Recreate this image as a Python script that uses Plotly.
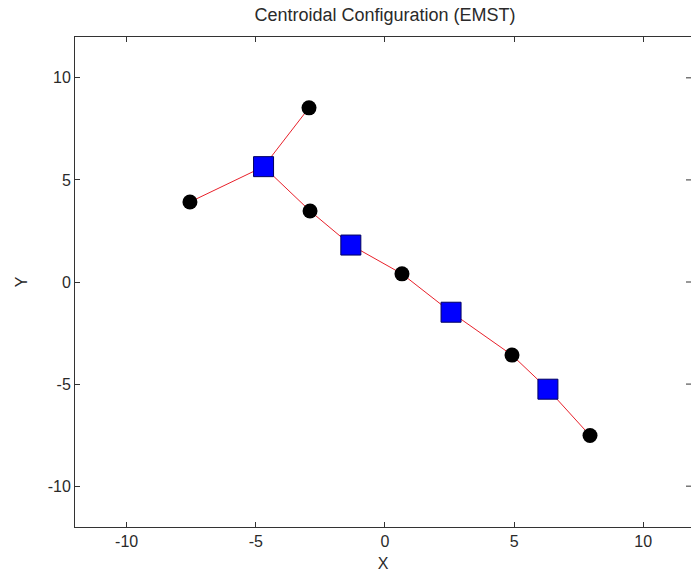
import plotly.graph_objects as go

# Sensor nodes (black circles)
sensor_x = [-2.94, -7.55, -2.90, 0.66, 4.92, 7.94]
sensor_y = [8.53, 3.92, 3.48, 0.40, -3.58, -7.52]

# Relay / centroid nodes (blue squares)
relay_x = [-4.70, -1.32, 2.56, 6.31]
relay_y = [5.65, 1.81, -1.48, -5.25]

# EMST edges: (sensor index, relay index)
edges = [(0, 0), (1, 0), (2, 0), (2, 1), (3, 1), (3, 2), (4, 2), (4, 3), (5, 3)]

tick_vals = [-10, -5, 0, 5, 10]
tick_text = ["-10", "-5", "0", "5", "10"]

ex, ey = [], []
for s, r in edges:
    ex += [sensor_x[s], relay_x[r], None]
    ey += [sensor_y[s], relay_y[r], None]

fig = go.Figure()
fig.add_trace(go.Scatter(x=ex, y=ey, mode="lines",
                         line=dict(color="#e8202a", width=1), hoverinfo="skip"))
fig.add_trace(go.Scatter(x=sensor_x, y=sensor_y, mode="markers",
                         marker=dict(symbol="circle", size=15, color="black",
                                     line=dict(width=0))))
fig.add_trace(go.Scatter(x=relay_x, y=relay_y, mode="markers",
                         marker=dict(symbol="square", size=20, color="#0000ff",
                                     line=dict(width=1, color="#000060"))))

FS = 16
TXT = "#2a2a2a"
font = dict(family="Liberation Sans, Arial, sans-serif", size=FS, color=TXT)

# right-side tick marks (the right border itself lies just outside the picture)
for v in tick_vals:
    fig.add_shape(type="line", xref="paper", yref="y", x0=1.0, x1=1.0 - 5 / 616,
                  y0=v, y1=v, line=dict(color="#333333", width=1))

fig.update_layout(
    template="none",
    width=691, height=576,
    margin=dict(l=75, r=0, t=37, b=49, autoexpand=False),
    paper_bgcolor="white", plot_bgcolor="white",
    showlegend=False,
    font=font,
    title=dict(text="Centroidal Configuration (EMST)", x=(385 - 75) / 616, xref="paper",
               y=1 - 15 / 576, yref="container", xanchor="center", yanchor="middle",
               font=dict(size=18, color=TXT)),
    xaxis=dict(range=[-12, 11.85], tickvals=tick_vals, ticktext=tick_text,
               ticks="inside", ticklen=5, tickcolor="#333333", automargin=False,
               showline=True, linecolor="#333333", linewidth=1, mirror="ticks",
               showgrid=False, zeroline=False,
               title=dict(text="X", standoff=8, font=dict(size=16, color=TXT))),
    yaxis=dict(range=[-12, 12], tickvals=tick_vals, ticktext=tick_text,
               ticks="inside", ticklen=5, tickcolor="#333333", automargin=False,
               showline=True, linecolor="#333333", linewidth=1, mirror=False,
               showgrid=False, zeroline=False,
               title=dict(text="Y", standoff=16, font=dict(size=16, color=TXT))),
)

fig.write_html("out.html", config={"displayModeBar": False},
               post_script="document.body.style.margin='0';")
